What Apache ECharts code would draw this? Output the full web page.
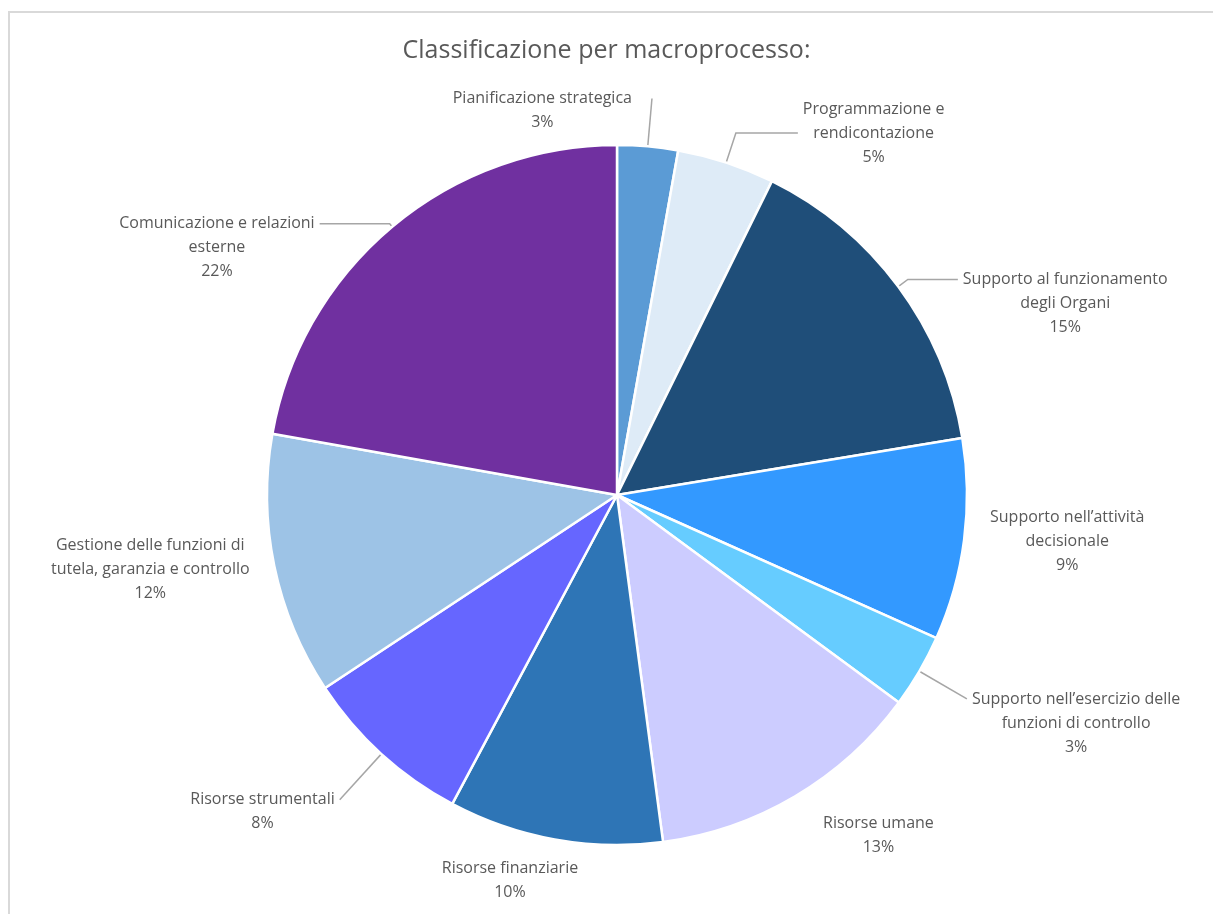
<!DOCTYPE html>
<html>
<head>
<meta charset="utf-8">
<title>Classificazione per macroprocesso</title>
<script src="https://cdn.jsdelivr.net/npm/echarts@6/dist/echarts.min.js"></script>
<style>
html, body { margin: 0; padding: 0; background: #fff; }
#frame {
    position: absolute; left: 8px; top: 11px; right: 0; bottom: 0;
    border-left: 2px solid #d9d9d9; border-top: 2px solid #d9d9d9;
}
#chart { position: absolute; left: 0; top: 0; width: 1213px; height: 914px; }
</style>
</head>
<body>
<div id="frame"></div>
<div id="chart"></div>
<script>
// categorie (in senso orario dalle ore 12)
const categories = [
    'Pianificazione strategica',
    'Programmazione e rendicontazione',
    'Supporto al funzionamento degli Organi',
    'Supporto nell\u2019attività decisionale',
    'Supporto nell\u2019esercizio delle funzioni di controllo',
    'Risorse umane',
    'Risorse finanziarie',
    'Risorse strumentali',
    'Gestione delle funzioni di tutela, garanzia e controllo',
    'Comunicazione e relazioni esterne'
]
// testo delle etichette, a capo come nel grafico Excel
const labelText = [
    'Pianificazione strategica',
    'Programmazione e\nrendicontazione',
    'Supporto al funzionamento\ndegli Organi',
    'Supporto nell\u2019attività\ndecisionale',
    'Supporto nell\u2019esercizio delle\nfunzioni di controllo',
    'Risorse umane',
    'Risorse finanziarie',
    'Risorse strumentali',
    'Gestione delle funzioni di\ntutela, garanzia e controllo',
    'Comunicazione e relazioni\nesterne'
]
const shares = [2.8, 4.5, 15.1, 9.3, 3.4, 12.8, 9.9, 7.9, 12.1, 22.2]

const colors = ['#5B9BD5', '#DEEBF7', '#1F4E79', '#3399FF', '#66CCFF',
                '#CCCCFF', '#2E75B6', '#6666FF', '#9DC3E6', '#7030A0']

// linee guida delle etichette: Excel le ha posizionate a mano
const labelTweaks = [
    { len: 48, len2: 0, line: true, top: true, flip: true },
    { len: 31, len2: 62, line: true },
    { len: 12, len2: 50, line: true, top: true },
    { len: 10, len2: 11, line: false },
    { len: 55, len2: 0, line: true, top: true },
    { len: 45, len2: 0, line: false },
    { len: 42, len2: 0, line: false, shift: 36 },
    { len: 62, len2: 0, line: true, top: true },
    { len: 15, len2: 5, line: false },
    { len: 4, len2: 70, line: true, top: true }
]

const FONT = '"Open Sans", "Noto Sans", sans-serif'
const LINE_H = 24

const myChart = echarts.init(document.getElementById('chart'))
const options = {
    animation: false,
    title: {
        text: 'Classificazione per macroprocesso:',
        left: 'center',
        top: 33,
        textStyle: {
            color: '#595959',
            fontSize: 25,
            fontWeight: 'normal',
            fontFamily: FONT
        }
    },
    series: [
        {
            type: 'pie',
            center: [617, 495],
            radius: 350,
            startAngle: 90,
            clockwise: true,
            avoidLabelOverlap: false,
            percentPrecision: 0,
            itemStyle: {
                borderColor: '#fff',
                borderWidth: 2.5
            },
            label: {
                show: true,
                position: 'outside',
                color: '#595959',
                fontSize: 16,
                lineHeight: LINE_H,
                fontFamily: FONT,
                formatter: function (p) {
                    return labelText[p.dataIndex] + '\n' + p.percent + '%'
                }
            },
            labelLine: {
                lineStyle: { color: '#a6a6a6', width: 1.5 }
            },
            // testo centrato come in Excel, ancorato alla prima riga dove c'è la linea
            labelLayout: function (p) {
                const t = labelTweaks[p.dataIndex]
                const w = p.labelRect.width
                const h = p.labelRect.height
                let dx = p.align === 'right' ? -w / 2 : w / 2
                if (t.flip) dx = -w / 2 - 25
                dx += t.shift || 0
                const dy = t.top ? h / 2 - LINE_H / 2 : 0
                return { align: 'center', dx: dx, dy: dy }
            },
            emphasis: { scale: false },
            data: categories.map(function (name, i) {
                const t = labelTweaks[i]
                return {
                    name: name,
                    value: shares[i],
                    itemStyle: { color: colors[i] },
                    labelLine: { show: t.line, length: t.len, length2: t.len2 }
                }
            })
        }
    ]
}
myChart.setOption(options)
</script>
</body>
</html>
